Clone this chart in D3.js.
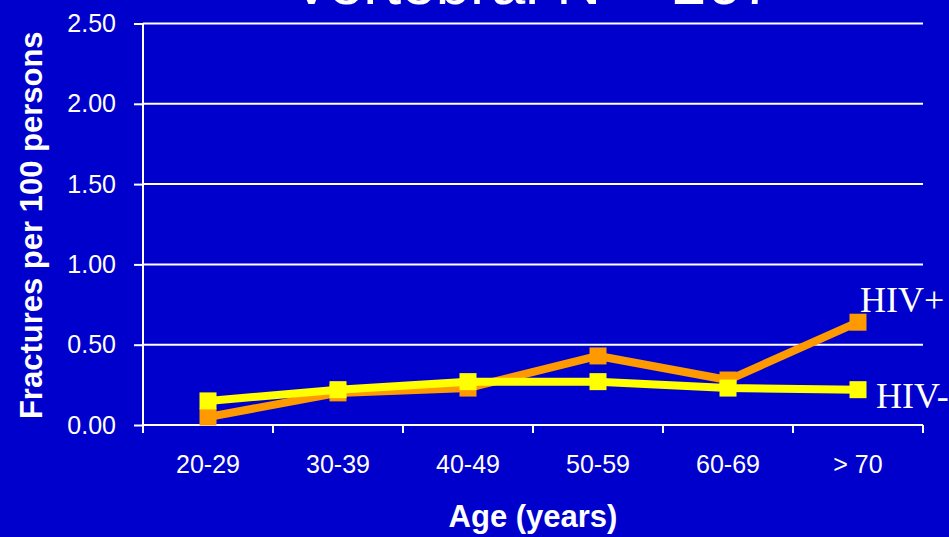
<!DOCTYPE html>
<html>
<head>
<meta charset="utf-8">
<script src="https://cdn.jsdelivr.net/npm/d3@7"></script>
<style>
  html, body { margin: 0; padding: 0; background: #0000CC; overflow: hidden; }
  svg { display: block; }
</style>
</head>
<body>
<svg id="chart" width="949" height="537"></svg>
<script>
// Age groups and fracture rates (per 100 persons)
const categories = ["20-29", "30-39", "40-49", "50-59", "60-69", "> 70"];
const hivPos = [0.05, 0.20, 0.23, 0.43, 0.28, 0.64];
const hivNeg = [0.15, 0.22, 0.27, 0.27, 0.23, 0.22];
const yTicks = [0, 0.5, 1.0, 1.5, 2.0, 2.5];
const titleText = "Vertebral  N = 267";

const svg = d3.select("#chart");
const margin = { left: 143, right: 26, top: 23.5, bottom: 112 };
const W = 949, H = 537;

const x = d3.scaleBand().domain(categories)
  .range([margin.left, W - margin.right]).paddingInner(0).paddingOuter(0);
const y = d3.scaleLinear().domain([0, 2.5]).range([H - margin.bottom, margin.top]);

const font = "Arial, 'Liberation Sans', Helvetica, sans-serif";

// Title (sits mostly above the visible area)
svg.append("text")
  .attr("x", (margin.left + W - margin.right) / 2)
  .attr("y", 4)
  .attr("text-anchor", "middle")
  .attr("fill", "#fff")
  .attr("font-family", font)
  .attr("font-size", 62)
  .text(titleText);

// Horizontal gridlines
svg.append("g").selectAll("line")
  .data(yTicks.filter(d => d > 0))
  .join("line")
  .attr("x1", margin.left).attr("x2", W - margin.right)
  .attr("y1", d => y(d)).attr("y2", d => y(d))
  .attr("stroke", "#fff").attr("stroke-width", 2);

// Y axis
const yAxis = svg.append("g")
  .attr("transform", `translate(${margin.left},0)`)
  .call(d3.axisLeft(y).tickValues(yTicks).tickFormat(d3.format(".2f")).tickSize(9).tickPadding(18));
yAxis.select(".domain").attr("stroke", "#fff").attr("stroke-width", 2)
  .attr("d", `M0,${y(2.5)}V${y(0) + 8}`);
yAxis.selectAll(".tick line").attr("stroke", "#fff").attr("stroke-width", 2);
yAxis.selectAll(".tick text").attr("fill", "#fff").attr("font-family", font).attr("font-size", 25);

// X axis
const xAxis = svg.append("g")
  .attr("transform", `translate(0,${y(0)})`)
  .call(d3.axisBottom(x).tickSize(0).tickPadding(30));
xAxis.select(".domain").attr("stroke", "#fff").attr("stroke-width", 2)
  .attr("d", `M${margin.left},0H${W - margin.right}`);
xAxis.selectAll(".tick text").attr("fill", "#fff").attr("font-family", font).attr("font-size", 25);
// tick marks at band boundaries
const bounds = categories.map(c => x(c)).concat([x(categories[categories.length - 1]) + x.bandwidth()]);
xAxis.append("g").selectAll("line").data(bounds.slice(1)).join("line")
  .attr("x1", d => d).attr("x2", d => d).attr("y1", 0).attr("y2", 8)
  .attr("stroke", "#fff").attr("stroke-width", 2);

// Axis titles
svg.append("text")
  .attr("x", (margin.left + W - margin.right) / 2)
  .attr("y", 527)
  .attr("text-anchor", "middle")
  .attr("fill", "#fff").attr("font-family", font)
  .attr("font-weight", "bold").attr("font-size", 31)
  .text("Age (years)");

svg.append("text")
  .attr("transform", `translate(42,${(y(0) + y(2.5)) / 2 + 1}) rotate(-90)`)
  .attr("text-anchor", "middle")
  .attr("fill", "#fff").attr("font-family", font)
  .attr("font-weight", "bold").attr("font-size", 31)
  .text("Fractures per 100 persons");

// Series
const cx = c => x(c) + x.bandwidth() / 2;
const line = d3.line().x((d, i) => cx(categories[i])).y(d => y(d));
const series = [
  { values: hivPos, color: "#FF9900" },
  { values: hivNeg, color: "#FFFF00" }
];
const ms = 17;
series.forEach(s => {
  svg.append("path")
    .datum(s.values)
    .attr("d", line)
    .attr("fill", "none")
    .attr("stroke", s.color)
    .attr("stroke-width", 8)
    .attr("stroke-linejoin", "miter");
  svg.append("g").selectAll("rect").data(s.values).join("rect")
    .attr("x", (d, i) => cx(categories[i]) - ms / 2)
    .attr("y", d => y(d) - ms / 2)
    .attr("width", ms).attr("height", ms)
    .attr("fill", s.color);
});

// Series labels
const last = categories[categories.length - 1];
svg.append("text")
  .attr("x", cx(last) + 2).attr("y", y(hivPos[hivPos.length - 1]) - 10)
  .attr("fill", "#fff").attr("font-family", "'Liberation Serif', 'Times New Roman', serif")
  .attr("font-size", 36).text("HIV+");
svg.append("text")
  .attr("x", cx(last) + 18).attr("y", y(hivNeg[hivNeg.length - 1]) + 18)
  .attr("fill", "#fff").attr("font-family", "'Liberation Serif', 'Times New Roman', serif")
  .attr("font-size", 36).text("HIV-");
</script>
</body>
</html>
